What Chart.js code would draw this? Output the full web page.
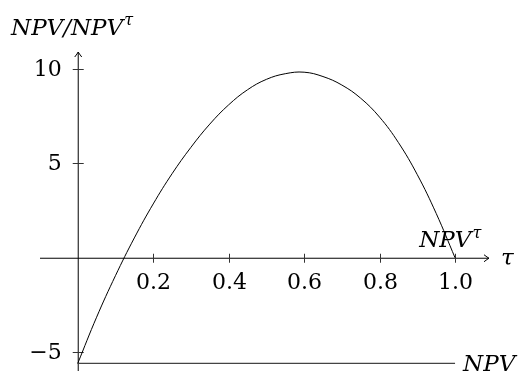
<!DOCTYPE html>
<html>
<head>
<meta charset="utf-8">
<script src="https://cdn.jsdelivr.net/npm/chart.js@4"></script>
<style>
  body { margin: 0; background: #fff; }
  canvas { display: block; }
</style>
</head>
<body>
<canvas id="chart" width="524" height="374"></canvas>
<script>
// Curve NPV/NPV^tau against tau
const tauValues = [0, 0.05, 0.1, 0.15, 0.2, 0.25, 0.3, 0.35, 0.4, 0.45, 0.5,
                   0.55, 0.6, 0.65, 0.7, 0.75, 0.8, 0.85, 0.9, 0.95, 1.0];
const ratioValues = [-5.6, -3.15, -0.95, 1.05, 2.85, 4.45, 5.85, 7.08, 8.1, 8.9, 9.45,
                     9.75, 9.83, 9.6, 9.15, 8.45, 7.45, 6.1, 4.4, 2.35, 0];

// Flat NPV line
const npvTau = [0, 1.0];
const npvValue = [-5.6, -5.6];

// Tick labels
const xTicks = [0.2, 0.4, 0.6, 0.8, 1.0];
const xTickLabels = ['0.2', '0.4', '0.6', '0.8', '1.0'];
const yTicks = [-5, 5, 10];
const yTickLabels = ['\u22125', '5', '10'];

const serif = '"DejaVu Serif", serif';

// draws a tikz-like "to" arrow head at (x, y) pointing along angle
function arrowHead(ctx, x, y, angle) {
    ctx.save();
    ctx.translate(x, y);
    ctx.rotate(angle);
    ctx.beginPath();
    ctx.moveTo(-5, -3.5);
    ctx.quadraticCurveTo(-1.5, -0.8, 0, 0);
    ctx.quadraticCurveTo(-1.5, 0.8, -5, 3.5);
    ctx.stroke();
    ctx.restore();
}

// base text followed by a small raised tau
function labelWithSup(ctx, base, sup, x, y, size) {
    ctx.font = 'italic ' + size + 'px ' + serif;
    ctx.fillText(base, x, y);
    const w = ctx.measureText(base).width;
    ctx.font = 'italic ' + Math.round(size * 0.7) + 'px ' + serif;
    ctx.fillText(sup, x + w + 1, y - size * 0.42);
}

const axesPlugin = {
    id: 'axesThroughOrigin',
    beforeDatasetsDraw(chart) {
        const ctx = chart.ctx;
        const xs = chart.scales.x;
        const ys = chart.scales.y;
        const x0 = xs.getPixelForValue(0);
        const y0 = ys.getPixelForValue(0);
        const xLeft = xs.getPixelForValue(xs.min);
        const xRight = xs.getPixelForValue(xs.max);
        const yTop = ys.getPixelForValue(ys.max);
        const yBottom = ys.getPixelForValue(ys.min);

        ctx.save();
        ctx.strokeStyle = '#000';
        ctx.lineWidth = 1;

        // x axis
        ctx.beginPath();
        ctx.moveTo(xLeft, y0 + 0.5);
        ctx.lineTo(xRight, y0 + 0.5);
        ctx.stroke();
        arrowHead(ctx, xRight, y0 + 0.5, 0);

        // y axis
        ctx.beginPath();
        ctx.moveTo(x0 + 0.5, yBottom);
        ctx.lineTo(x0 + 0.5, yTop);
        ctx.stroke();
        arrowHead(ctx, x0 + 0.5, yTop, -Math.PI / 2);

        // ticks and labels
        ctx.fillStyle = '#000';
        ctx.font = '22px ' + serif;
        ctx.strokeStyle = '#333';
        ctx.textAlign = 'center';
        ctx.textBaseline = 'alphabetic';
        xTicks.forEach((t, i) => {
            const px = Math.round(xs.getPixelForValue(t)) + 0.5;
            ctx.beginPath();
            ctx.moveTo(px, y0 - 4);
            ctx.lineTo(px, y0 + 5);
            ctx.stroke();
            ctx.fillText(xTickLabels[i], px, y0 + 31);
        });
        ctx.textAlign = 'right';
        ctx.textBaseline = 'middle';
        yTicks.forEach((v, i) => {
            const py = Math.round(ys.getPixelForValue(v)) + 0.5;
            ctx.beginPath();
            ctx.moveTo(x0 - 5, py);
            ctx.lineTo(x0 + 6, py);
            ctx.stroke();
            ctx.fillText(yTickLabels[i], x0 - 16, py + 1);
        });
        ctx.restore();
    },
    afterDatasetsDraw(chart) {
        const ctx = chart.ctx;
        const xs = chart.scales.x;
        const ys = chart.scales.y;
        const y0 = ys.getPixelForValue(0);
        const xRight = xs.getPixelForValue(xs.max);

        ctx.save();
        ctx.fillStyle = '#000';
        ctx.textAlign = 'left';
        ctx.textBaseline = 'alphabetic';

        // axis names
        labelWithSup(ctx, 'NPV/NPV', '\u03c4', 11, 35, 23);
        ctx.font = 'italic 23px ' + serif;
        ctx.fillText('\u03c4', xRight + 12, y0 + 7);

        // curve names
        labelWithSup(ctx, 'NPV', '\u03c4', xs.getPixelForValue(0.905), ys.getPixelForValue(0.55), 23);
        ctx.font = 'italic 23px ' + serif;
        ctx.fillText('NPV', xs.getPixelForValue(1.0) + 8, ys.getPixelForValue(npvValue[1]) + 8);
        ctx.restore();
    }
};

new Chart(document.getElementById('chart'), {
    type: 'line',
    data: {
        datasets: [{
            data: tauValues.map((t, i) => ({ x: t, y: ratioValues[i] })),
            borderColor: '#000',
            borderWidth: 1,
            pointRadius: 0,
            tension: 0.4,
            fill: false
        }, {
            data: npvTau.map((t, i) => ({ x: t, y: npvValue[i] })),
            borderColor: '#444',
            borderWidth: 1.3,
            pointRadius: 0,
            fill: false
        }]
    },
    options: {
        responsive: false,
        devicePixelRatio: 1,
        animation: false,
        layout: { padding: { left: 40, right: 35, top: 52, bottom: 3 } },
        plugins: {
            legend: { display: false },
            tooltip: { enabled: false }
        },
        scales: {
            x: { type: 'linear', min: -0.1, max: 1.09, display: false },
            y: { type: 'linear', min: -6, max: 10.9, display: false }
        }
    },
    plugins: [axesPlugin]
});
</script>
</body>
</html>
